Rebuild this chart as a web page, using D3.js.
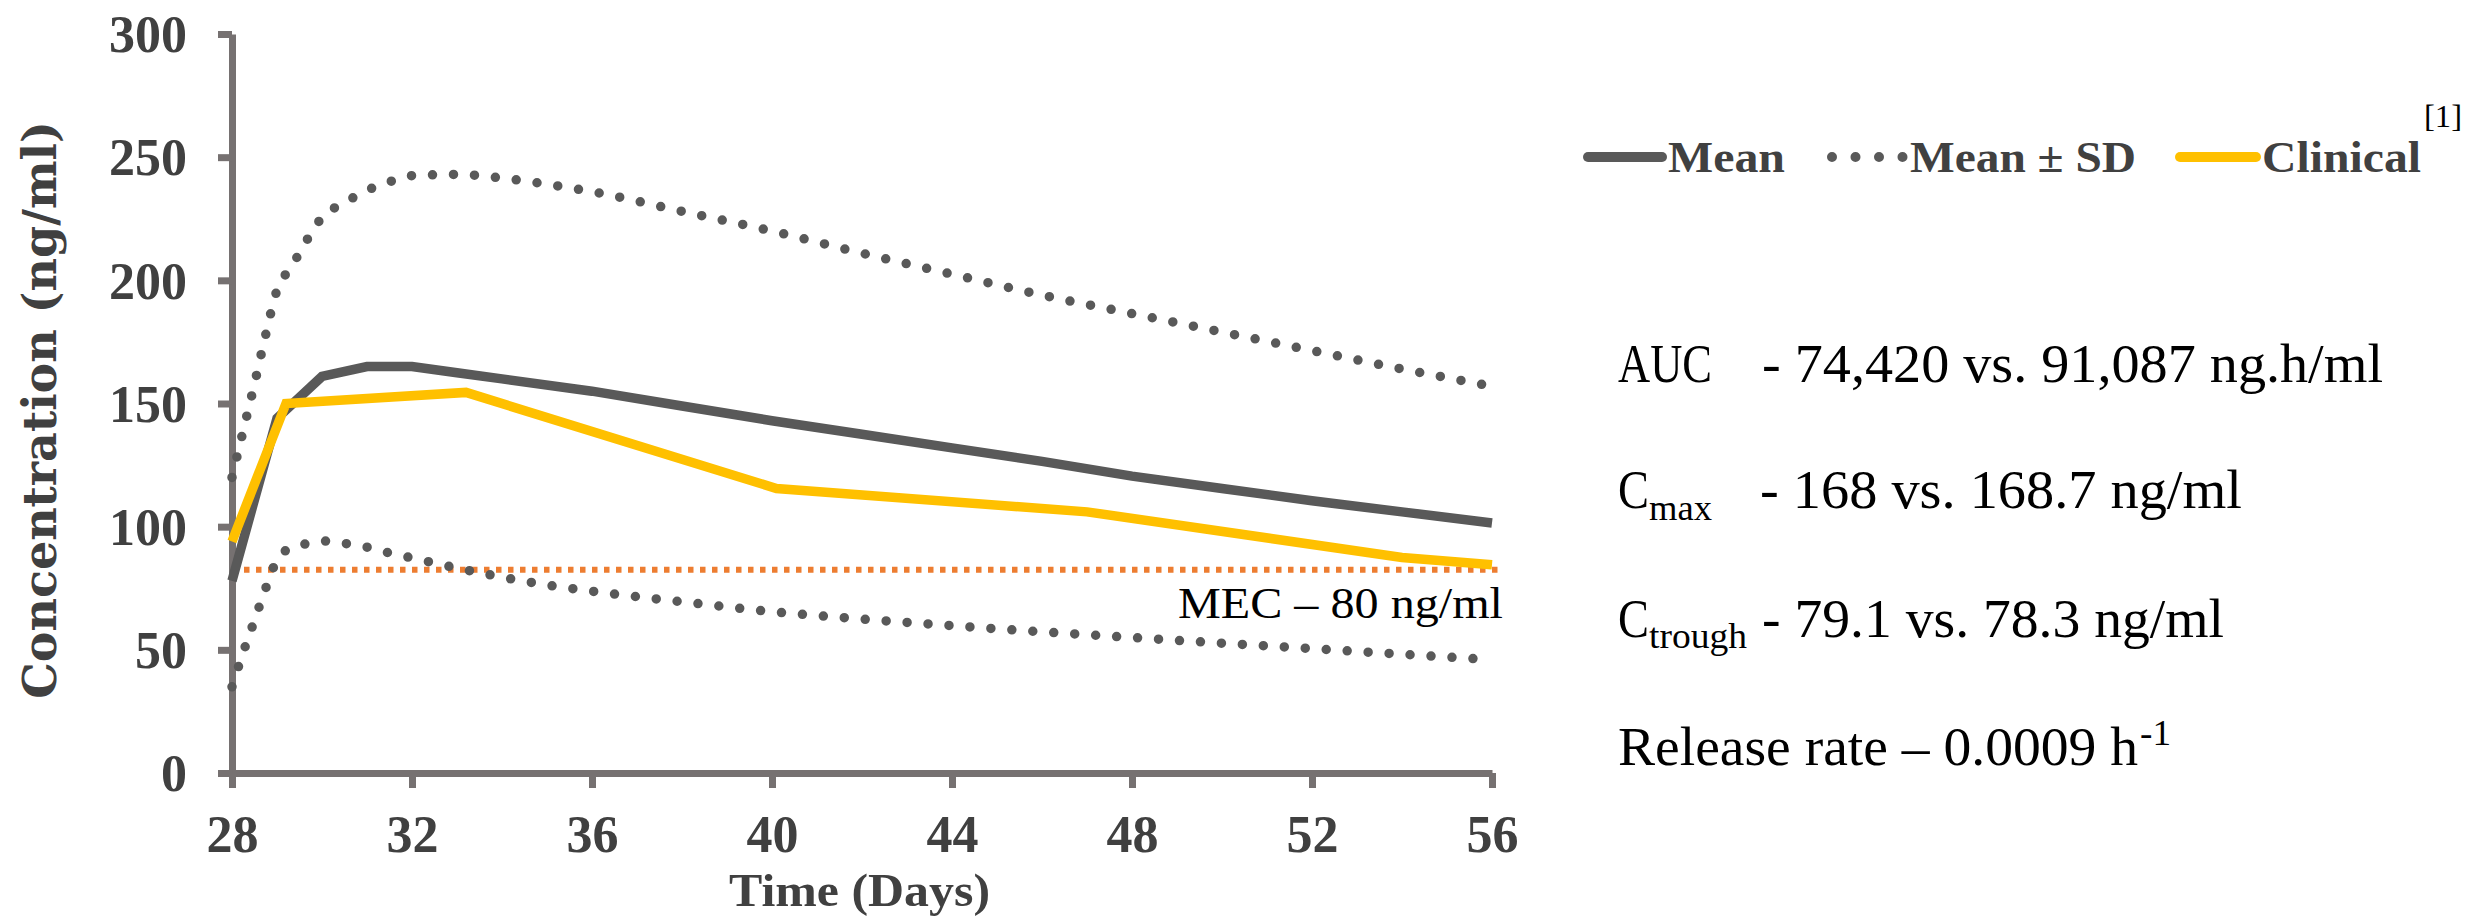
<!DOCTYPE html>
<html>
<head>
<meta charset="utf-8">
<script src="https://cdn.jsdelivr.net/npm/d3@7"></script>
<style>
  body { margin: 0; background: #fff; }
  svg { display: block; }
</style>
</head>
<body>
<div id="chart"></div>
<script>
// data (days vs ng/ml)
var meanDays = [28, 29, 30, 31, 32, 33, 34, 36, 38, 40, 42, 44, 46, 48, 50, 52, 54, 56];
var meanConc = [78, 144, 161, 165, 165, 162.5, 160, 155, 149, 143, 137.5, 132, 126.5, 120.5, 115.5, 110.5, 106, 101.5];

var sdDays = [28, 28.25, 28.5, 28.75, 29, 29.25, 29.5, 29.75, 30, 30.5, 31, 31.5, 32, 33, 34, 35, 36, 38, 40, 42, 44, 46, 48, 50, 52, 54, 56];
var sdUpper = [120, 139, 158, 178, 196, 204, 211, 219, 225.5, 231.5, 236.5, 240, 242.5, 243, 241.5, 239, 236, 228, 220, 211, 202.5, 194, 186.5, 179, 171.5, 164, 157];
var sdLower = [35, 49, 62, 75, 86.5, 91, 92.5, 93.3, 94.2, 93.2, 91.7, 89.3, 87.3, 83.2, 79.5, 76.3, 73.8, 69.5, 65.5, 62.5, 59.8, 57.3, 55, 52.7, 50.5, 48.2, 46];

var clinicalDays = [28, 29.2, 33.2, 40.1, 47, 54, 56];
var clinicalConc = [94, 150, 154.5, 115.5, 106, 87.5, 84.5];

var mecValue = 82.5;
var mecLabel = "MEC \u2013 80 ng/ml";

var xTicks = [28, 32, 36, 40, 44, 48, 52, 56];
var yTicks = [0, 50, 100, 150, 200, 250, 300];

var legendLabels = ["Mean", "Mean \u00b1 SD", "Clinical"];

var W = 2473, H = 924;
var grey = "#595959", gold = "#FFC000", orange = "#ED7D31", axisCol = "#767171", txt = "#404040";

var svg = d3.select("#chart").append("svg")
  .attr("width", W).attr("height", H);

var x = d3.scaleLinear().domain([28, 56]).range([232, 1492]);
var y = d3.scaleLinear().domain([0, 300]).range([773, 34]);

// axes
var yAxis = svg.append("g")
  .attr("transform", "translate(232,0)")
  .call(d3.axisLeft(y).tickValues(yTicks).tickSize(14).tickSizeOuter(0).tickPadding(31));

var xAxis = svg.append("g")
  .attr("transform", "translate(0,773)")
  .call(d3.axisBottom(x).tickValues(xTicks).tickSize(15).tickSizeOuter(0));

[yAxis, xAxis].forEach(function (g) {
  g.select(".domain").attr("stroke", axisCol).attr("stroke-width", 7);
  g.selectAll(".tick line").attr("stroke", axisCol).attr("stroke-width", 7);
  g.selectAll(".tick text")
    .attr("fill", txt)
    .style("font-family", "'Liberation Serif', serif")
    .style("font-weight", "bold")
    .style("font-size", "52px");
});
yAxis.selectAll(".tick text").attr("dy", "0.34em");
xAxis.selectAll(".tick text").attr("dy", null).attr("y", 79);

// axis titles
svg.append("text")
  .attr("transform", "translate(56,410) rotate(-90)")
  .attr("text-anchor", "middle")
  .attr("fill", txt)
  .style("font-family", "'DejaVu Serif', serif")
  .style("font-weight", "bold")
  .style("font-size", "46px")
  .text("Concentration (ng/ml)");

svg.append("text")
  .attr("x", 729).attr("y", 906)
  .attr("textLength", 261).attr("lengthAdjust", "spacingAndGlyphs")
  .attr("fill", txt)
  .style("font-family", "'Liberation Serif', serif")
  .style("font-weight", "bold")
  .style("font-size", "47px")
  .text("Time (Days)");

// MEC reference line
svg.append("line")
  .attr("x1", x(28)).attr("x2", x(56) + 8)
  .attr("y1", y(mecValue)).attr("y2", y(mecValue))
  .attr("stroke", orange).attr("stroke-width", 6)
  .attr("stroke-dasharray", "5.5 6.5");

svg.append("text")
  .attr("x", 1178).attr("y", 618)
  .attr("textLength", 325).attr("lengthAdjust", "spacingAndGlyphs")
  .attr("fill", "#000")
  .style("font-family", "'Liberation Serif', serif")
  .style("font-size", "45px")
  .text(mecLabel);

// series
function pairs(xs, ys) { return xs.map(function (d, i) { return [d, ys[i]]; }); }

var line = d3.line().x(function (d) { return x(d[0]); }).y(function (d) { return y(d[1]); });
var smooth = d3.line().curve(d3.curveMonotoneX)
  .x(function (d) { return x(d[0]); }).y(function (d) { return y(d[1]); });

[sdUpper, sdLower].forEach(function (s) {
  svg.append("path")
    .datum(pairs(sdDays, s))
    .attr("d", smooth)
    .attr("fill", "none")
    .attr("stroke", grey).attr("stroke-width", 9.5)
    .attr("stroke-linecap", "round")
    .attr("stroke-dasharray", "0 21");
});

svg.append("path")
  .datum(pairs(meanDays, meanConc))
  .attr("d", line)
  .attr("fill", "none")
  .attr("stroke", grey).attr("stroke-width", 9.5);

svg.append("path")
  .datum(pairs(clinicalDays, clinicalConc))
  .attr("d", line)
  .attr("fill", "none")
  .attr("stroke", gold).attr("stroke-width", 9.5);

// legend
var legendItems = [
  { label: legendLabels[0], x0: 1588, x1: 1662, tx: 1668, tw: 117, color: grey, dash: null },
  { label: legendLabels[1], x0: 1832, x1: 1903, tx: 1910, tw: 226, color: grey, dash: "0 23.5" },
  { label: legendLabels[2], x0: 2180, x1: 2256, tx: 2262, tw: 159, color: gold, dash: null }
];
var lg = svg.append("g");
legendItems.forEach(function (d) {
  lg.append("line")
    .attr("x1", d.x0).attr("x2", d.x1).attr("y1", 157).attr("y2", 157)
    .attr("stroke", d.color).attr("stroke-width", 10)
    .attr("stroke-linecap", "round")
    .attr("stroke-dasharray", d.dash);
  lg.append("text")
    .attr("x", d.tx).attr("y", 172)
    .attr("textLength", d.tw).attr("lengthAdjust", "spacingAndGlyphs")
    .attr("fill", txt)
    .style("font-family", "'Liberation Serif', serif")
    .style("font-weight", "bold")
    .style("font-size", "45px")
    .text(d.label);
});
lg.append("text")
  .attr("x", 2424).attr("y", 127)
  .attr("textLength", 38).attr("lengthAdjust", "spacingAndGlyphs")
  .style("font-family", "'Liberation Serif', serif")
  .style("font-size", "32px")
  .text("[1]");

// summary text on the right
var notes = [
  { t: "AUC", x: 1618, y: 382, w: 94, s: 55 },
  { t: "- 74,420 vs. 91,087 ng.h/ml", x: 1762, y: 382, w: 621, s: 55 },
  { t: "C", x: 1618, y: 508, w: 31, s: 55 },
  { t: "max", x: 1649, y: 520, w: 63, s: 35 },
  { t: "- 168 vs. 168.7 ng/ml", x: 1760, y: 508, w: 482, s: 55 },
  { t: "C", x: 1618, y: 637, w: 31, s: 55 },
  { t: "trough", x: 1649, y: 648, w: 98, s: 35 },
  { t: "- 79.1 vs. 78.3 ng/ml", x: 1762, y: 637, w: 462, s: 55 },
  { t: "Release rate \u2013 0.0009 h", x: 1618, y: 765, w: 520, s: 55 },
  { t: "-1", x: 2140, y: 745, w: 31, s: 35 }
];
svg.append("g").selectAll("text")
  .data(notes).enter().append("text")
  .attr("x", function (d) { return d.x; })
  .attr("y", function (d) { return d.y; })
  .attr("textLength", function (d) { return d.w; })
  .attr("lengthAdjust", "spacingAndGlyphs")
  .attr("fill", "#000")
  .style("font-family", "'Liberation Serif', serif")
  .style("font-size", function (d) { return d.s + "px"; })
  .text(function (d) { return d.t; });
</script>
</body>
</html>
